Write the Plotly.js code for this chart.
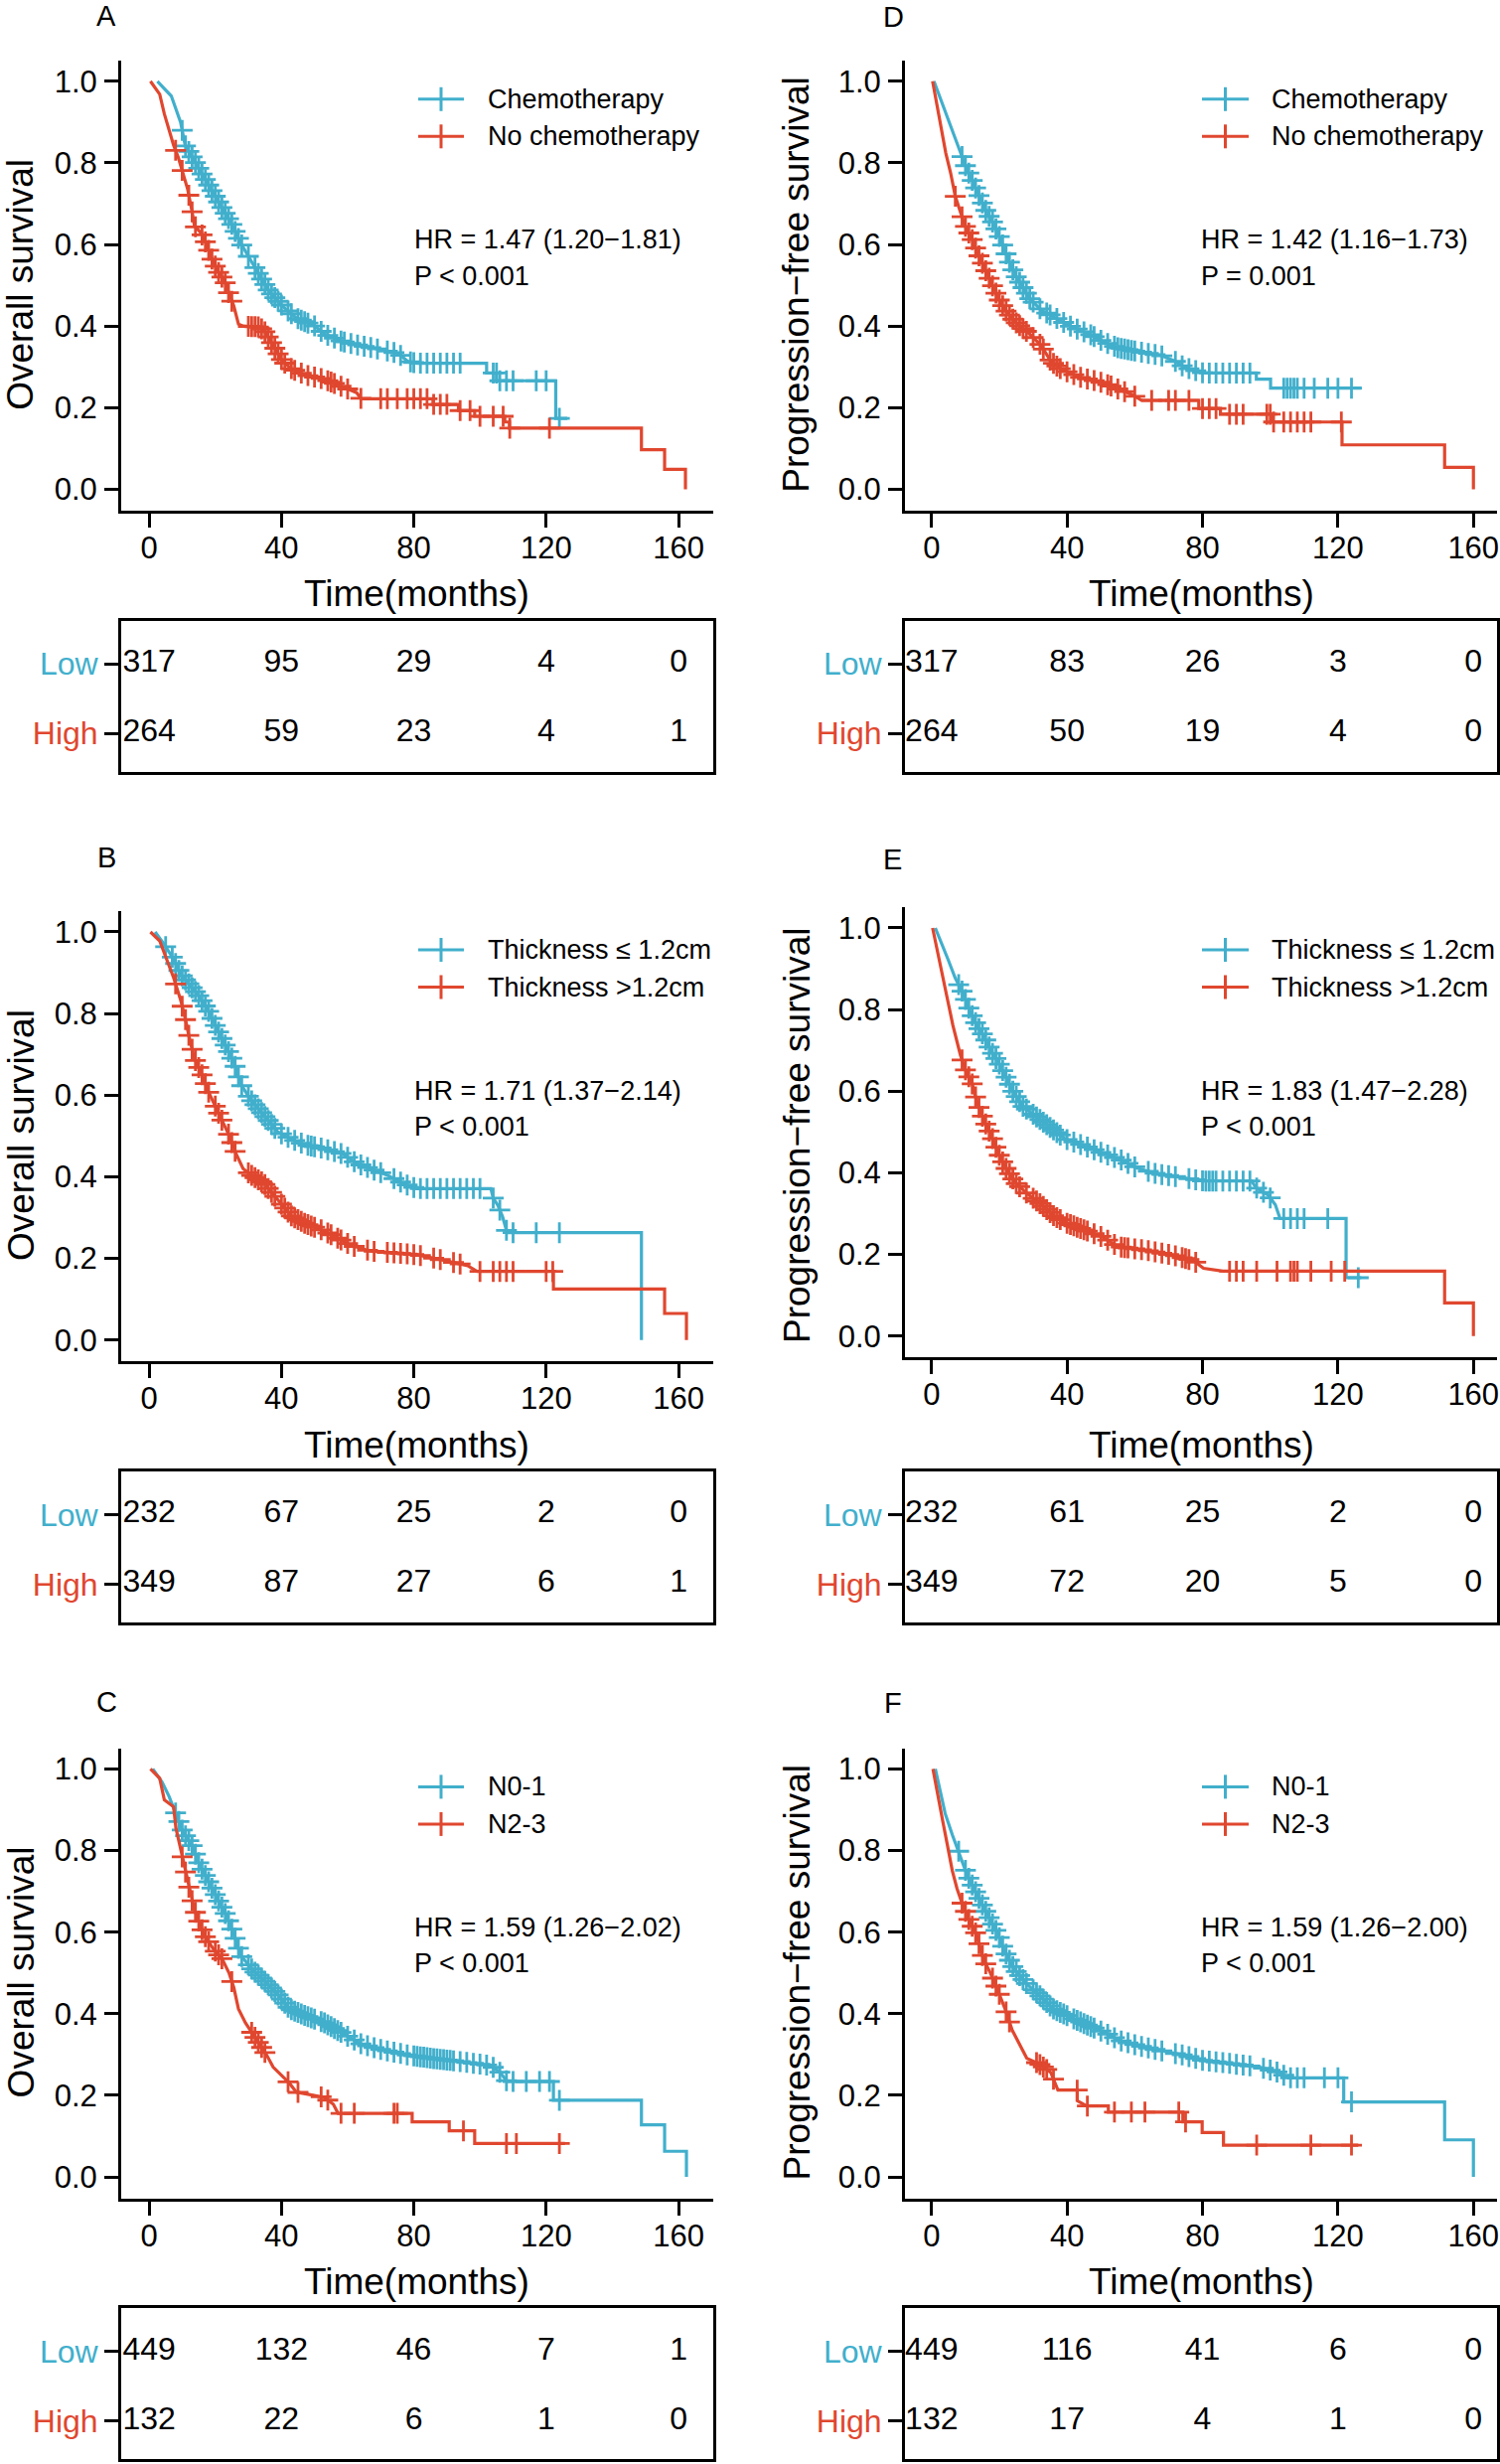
<!DOCTYPE html>
<html><head><meta charset="utf-8">
<script src="https://cdn.plot.ly/plotly-3.0.1.min.js"></script>
<style>body{margin:0;background:#fff}</style>
</head><body><div id="chart" style="width:1510px;height:2480px"></div>
<script>
// ---------------- DATA ----------------
const timeTicks = [0, 40, 80, 120, 160];
const survTicks = [0, 0.2, 0.4, 0.6, 0.8, 1.0];
const survTickText = ['0.0', '0.2', '0.4', '0.6', '0.8', '1.0'];
const riskTimes = [0, 40, 80, 120, 160];
const rowNames = ['Low', 'High'];

// Panel A (OS, chemotherapy)
const A_legend = ['Chemotherapy', 'No chemotherapy'];
const A_low_t = [2.5,6.7,9.5,10.9,13.7,16.5,19.3,22.1,24.9,27.7,30.5,33.3,36.1,40.3,44.5,50.1,52.9,58.5,64.1,69.7,75.3,78.1,80.9,102,102,105,105,122.9,122.9,126.4];
const A_low_s = [1.0,.964,.90,.843,.805,.766,.728,.689,.651,.603,.564,.525,.487,.449,.42,.40,.381,.362,.352,.343,.333,.314,.309,.309,.285,.285,.266,.266,.174,.174];
const A_low_c = [10,11,12,13,14,15,16,17,18,19,20,21,22,23,24,25,26,27,28,30,32,33,34,35,36,37,38,39,40,42,43,45,46,47,48,50,52,54,56,58,59,61,63,65,67,69,72,74,76,79,80,82,84,86,88,90,92,94,104,105,106,108,110,117,120,124];
const A_high_t = [0.4,3.2,4.6,6.0,7.4,8.8,10.2,11.6,13.0,13.7,15.8,17.2,19.0,20.7,22.8,24.2,25.6,27.0,28.4,33,34.7,36.1,38.2,40.3,43.1,47.3,52.9,58.5,62.7,64.1,85.8,85.8,93.5,93.5,98.4,98.4,107.5,107.5,108.9,108.9,148.8,148.8,155.8,155.8,162.1,162.1];
const A_high_s = [1.0,.968,.920,.882,.843,.814,.776,.737,.680,.646,.627,.603,.564,.535,.511,.477,.449,.405,.400,.398,.39,.372,.343,.314,.295,.28,.27,.251,.237,.222,.222,.208,.208,.193,.193,.179,.179,.165,.165,.150,.150,.097,.097,.049,.049,0];
const A_high_c = [8,10,12,13,14,16,17,18,19,20,21,22,23,24,25,30,31,32,33,34,35,36,37,38,39,40,41,43,44,46,48,50,52,54,55,56,58,60,64,70,72,75,78,80,82,84,86,88,90,94,97,100,104,107,109,121];
const A_riskLow = [317, 95, 29, 4, 0];
const A_riskHigh = [264, 59, 23, 4, 1];
const A_hr = 'HR = 1.47 (1.20\u22121.81)';
const A_p = 'P &lt; 0.001';

// Panel D (PFS, chemotherapy)
const D_legend = ['Chemotherapy', 'No chemotherapy'];
const D_low_t = [0.7,3.5,5.6,7.8,9.9,12.0,14.1,16.2,18.3,20.4,22.6,24.7,26.8,28.9,32.4,36.7,40.9,46.5,50.7,55.0,60.6,67.7,71.9,74.7,80.3,95.9,95.9,100.1,100.1,126.9];
const D_low_s = [1.0,.939,.891,.843,.795,.757,.718,.680,.651,.612,.564,.525,.497,.468,.439,.42,.40,.381,.362,.347,.338,.328,.314,.299,.285,.285,.270,.270,.248,.248];
const D_low_c = [9,10,11,12,13,14,15,16,17,18,19,20,21,22,23,24,25,26,27,28,29,30,32,34,35,37,39,41,43,45,47,48,50,52,54,55,56,57,58,59,60,62,64,66,68,72,74,76,78,80,82,84,86,88,90,92,94,104,105,106,107,108,110,113,117,120,124];
const D_high_t = [0.3,1.4,2.8,4.2,5.6,7.0,8.5,9.9,12.0,13.4,15.5,17.6,19.7,21.8,24.7,28.9,32.4,35.2,38.1,43.7,50.7,55.0,59.2,62.0,78.9,78.9,85.3,85.3,100.8,100.8,121.2,121.2,151.5,151.5,160,160];
const D_high_s = [1.0,.949,.891,.824,.776,.718,.680,.646,.612,.583,.545,.506,.468,.439,.410,.381,.352,.314,.295,.275,.261,.246,.232,.218,.218,.198,.198,.184,.184,.165,.165,.109,.109,.054,.054,0];
const D_high_c = [7,9,10,11,12,13,14,15,16,17,18,19,20,21,22,23,24,25,26,27,28,30,32,33,35,36,37,38,40,42,44,46,48,50,52,53,55,57,60,65,70,72,76,80,82,84,88,90,92,99,100,101,104,106,108,110,112,121];
const D_riskLow = [317, 83, 26, 3, 0];
const D_riskHigh = [264, 50, 19, 4, 0];
const D_hr = 'HR = 1.42 (1.16\u22121.73)';
const D_p = 'P = 0.001';

// Panel B (OS, thickness)
const B_legend = ['Thickness \u2264 1.2cm', 'Thickness &gt;1.2cm'];
const B_low_t = [1.8,4.6,7.4,9.5,12.3,15.1,17.9,20.0,22.8,25.6,27.7,30.5,33.3,36.1,38.9,43.1,47.3,52.9,58.5,62.7,66.9,72.5,76.7,80.9,103.3,104,105.4,106.8,108.2,148.8,148.8];
const B_low_s = [1.0,.969,.933,.897,.870,.843,.807,.771,.726,.681,.627,.591,.564,.537,.510,.492,.478,.469,.456,.433,.420,.402,.384,.371,.371,.348,.330,.303,.263,.263,0];
const B_low_c = [5,7,8,9,10,11,12,13,14,15,16,17,18,19,20,21,22,23,24,25,26,27,28,30,31,32,33,34,35,36,37,38,40,42,44,46,48,49,50,52,54,56,58,60,62,64,66,68,70,74,76,78,80,82,84,86,88,90,92,94,96,98,100,104,106,108,110,117,124];
const B_high_t = [0.4,3.2,5.3,7.4,9.5,10.9,12.3,13.7,15.8,17.9,20.0,22.1,24.2,26.3,28.4,31.2,34.7,37.5,40.3,43.1,47.3,52.9,57.1,61.3,66.9,80.9,89.3,96.3,99.1,122.2,122.2,155.8,155.8,162.4,162.4];
const B_high_s = [1.0,.978,.933,.888,.834,.789,.735,.690,.654,.609,.573,.537,.501,.456,.420,.402,.384,.357,.330,.303,.285,.267,.249,.231,.218,.209,.195,.182,.168,.168,.125,.125,.065,.065,0];
const B_high_c = [8,10,11,12,13,14,15,16,17,18,20,21,22,24,25,26,30,31,32,33,34,35,36,37,38,40,41,42,43,44,45,46,47,48,49,50,52,54,55,57,58,60,62,66,68,72,74,76,78,80,82,86,88,92,94,100,104,106,108,110,120,122];
const B_riskLow = [232, 67, 25, 2, 0];
const B_riskHigh = [349, 87, 27, 6, 1];
const B_hr = 'HR = 1.71 (1.37\u22122.14)';
const B_p = 'P &lt; 0.001';

// Panel E (PFS, thickness)
const E_legend = ['Thickness \u2264 1.2cm', 'Thickness &gt;1.2cm'];
const E_low_t = [1.1,2.8,4.9,7.0,9.2,11.3,13.4,15.5,17.6,19.7,21.9,24.0,26.8,31.0,35.2,39.5,45.1,50.7,56.4,60.6,66.3,73.3,80.3,94.4,95.9,99.4,101.5,102.9,122.4,122.4,126.9];
const E_low_s = [1.0,.967,.922,.877,.842,.797,.761,.734,.698,.671,.636,.600,.564,.537,.510,.483,.466,.448,.430,.412,.398,.389,.380,.380,.363,.345,.322,.288,.288,.143,.143];
const E_low_c = [8,9,10,11,12,13,14,15,16,17,18,19,20,21,22,23,24,25,26,27,28,30,31,32,33,34,35,36,37,38,40,42,44,46,48,50,52,54,56,58,60,64,66,68,70,72,76,78,80,81,82,83,84,86,88,90,92,94,96,98,100,104,106,108,110,117,126];
const E_high_t = [0.3,2.1,4.2,6.3,8.5,9.9,12.0,13.4,15.5,17.6,19.7,21.9,24.7,28.2,32.4,36.0,39.5,45.1,50.7,55.0,63.4,71.9,77.5,80.3,86.0,151.5,151.5,160,160];
const E_high_s = [1.0,.931,.842,.761,.689,.654,.618,.573,.528,.492,.448,.412,.376,.349,.322,.295,.278,.260,.242,.219,.210,.197,.184,.166,.159,.159,.081,.081,0];
const E_high_c = [9,10,11,12,13,14,15,16,17,18,19,20,21,22,23,24,25,26,28,30,31,32,33,34,35,36,37,38,40,41,42,43,44,45,46,48,50,52,54,56,57,58,60,62,64,66,68,70,72,74,75,76,78,88,90,92,96,102,106,107,108,112,118,122];
const E_riskLow = [232, 61, 25, 2, 0];
const E_riskHigh = [349, 72, 20, 5, 0];
const E_hr = 'HR = 1.83 (1.47\u22122.28)';
const E_p = 'P &lt; 0.001';

// Panel C (OS, N stage)
const C_legend = ['N0-1', 'N2-3'];
const C_low_t = [1.1,3.9,6.0,8.1,10.2,13.0,15.1,17.9,20.7,23.5,25.6,27.7,31.2,34.7,38.9,42.4,47.3,52.9,58.5,64.1,69.7,78.1,85.1,94.9,103.3,106.1,108.2,122.2,122.2,148.8,148.8,155.8,155.8,162.4,162.4];
const C_low_s = [1.0,.968,.933,.890,.846,.812,.768,.725,.681,.638,.595,.543,.508,.482,.447,.412,.395,.378,.352,.326,.313,.299,.291,.282,.273,.256,.234,.234,.188,.188,.128,.128,.063,.063,0];
const C_low_c = [8,9,10,11,12,13,14,15,16,17,18,19,20,21,22,23,24,25,26,27,28,30,31,32,33,34,35,36,37,38,39,40,41,42,43,44,45,46,47,48,49,50,52,53,54,55,56,57,58,60,62,64,66,68,70,72,74,76,78,80,81,82,83,84,85,86,87,88,89,90,91,92,94,96,98,100,102,104,106,108,110,114,118,121,124];
const C_high_t = [0.4,3.2,4.6,7.4,8.1,9.5,10.9,12.3,13.7,16.5,19.3,22.1,24.2,25.6,27.0,29.1,31.2,33.3,35.5,37.5,40.3,42.4,44.5,52.9,55.7,57.1,79.5,79.5,90.7,90.7,98.4,98.4,125.7];
const C_high_s = [1.0,.977,.924,.907,.855,.803,.751,.699,.655,.595,.560,.534,.499,.464,.412,.378,.352,.326,.299,.269,.247,.230,.208,.195,.178,.156,.156,.135,.135,.113,.113,.082,.082];
const C_high_c = [10,11,12,13,14,15,16,17,18,20,21,22,25,31,32,33,34,35,42,45,52,54,58,62,74,75,95,108,111,124];
const C_riskLow = [449, 132, 46, 7, 1];
const C_riskHigh = [132, 22, 6, 1, 0];
const C_hr = 'HR = 1.59 (1.26\u22122.02)';
const C_p = 'P &lt; 0.001';

// Panel F (PFS, N stage)
const F_legend = ['N0-1', 'N2-3'];
const F_low_t = [1.1,2.6,4.0,6.1,8.2,10.4,12.5,14.6,17.4,19.6,21.7,24.5,28.1,31.6,35.9,40.1,45.8,51.5,55.7,61.4,68.5,74.2,79.9,88.4,96.9,102.6,105.4,121.7,121.7,151.5,151.5,160,160];
const F_low_s = [1.0,.942,.891,.839,.794,.742,.707,.673,.629,.595,.551,.508,.473,.447,.412,.395,.373,.352,.334,.321,.308,.299,.286,.278,.269,.256,.243,.243,.184,.184,.091,.091,0];
const F_low_c = [8,10,11,12,13,14,15,16,17,18,19,20,21,22,23,24,25,26,27,28,30,31,32,33,34,35,36,37,38,39,40,42,43,44,45,46,47,48,50,52,54,56,58,60,62,64,66,68,72,74,76,78,80,82,84,86,88,90,92,94,98,100,102,104,106,108,110,116,120,124];
const F_high_t = [0.4,1.8,3.3,4.7,6.1,7.5,8.9,11.1,13.2,15.3,17.4,19.6,21.7,23.8,26.0,28.1,31.6,35.2,37.3,43.0,43.0,45.8,52.2,52.2,74.2,74.2,79.9,79.9,86.2,86.2,126.0];
const F_high_s = [1.0,.933,.872,.812,.751,.707,.673,.629,.595,.534,.499,.456,.412,.360,.326,.291,.278,.256,.213,.213,.187,.174,.174,.159,.159,.135,.135,.109,.109,.078,.078];
const F_high_c = [9,10,11,12,13,14,15,16,18,19,20,22,23,31,32,33,34,36,43,46,54,59,63,73,75,96,112,124];
const F_riskLow = [449, 116, 41, 6, 0];
const F_riskHigh = [132, 17, 4, 1, 0];
const F_hr = 'HR = 1.59 (1.26\u22122.00)';
const F_p = 'P &lt; 0.001';

// ---------------- STYLE / LAYOUT ----------------
const W = 1510, H = 2480;
const px = x => x / W, py = y => 1 - y / H;
const CYAN = '#41AFCC', RED = '#E0472F';
const FONT = 'Liberation Sans, Arial, Helvetica, sans-serif';

const cols = {
  left:  {L: 122, R: 718, r0: -8.44, r1: 170.5, lineX0: 421, lineX1: 467, textX: 489, hrX: 415, ytX: 21},
  right: {L: 911, R: 1507, r0: -7.86, r1: 166.97, lineX0: 1210, lineX1: 1257, textX: 1278, hrX: 1207, ytX: 802}
};

const panels = [
  {id:'A', col:'left',  base:81.8,   plotBase:81.8,   ytitle:'Overall survival', letterXY:[107,16],
   low:[A_low_t,A_low_s,A_low_c], high:[A_high_t,A_high_s,A_high_c], risk:[A_riskLow,A_riskHigh], legend:A_legend, hr:A_hr, p:A_p},
  {id:'B', col:'left',  base:938,    plotBase:938,    ytitle:'Overall survival', letterXY:[107,863],
   low:[B_low_t,B_low_s,B_low_c], high:[B_high_t,B_high_s,B_high_c], risk:[B_riskLow,B_riskHigh], legend:B_legend, hr:B_hr, p:B_p},
  {id:'C', col:'left',  base:1780.4, plotBase:1780.4, ytitle:'Overall survival', letterXY:[107,1713],
   low:[C_low_t,C_low_s,C_low_c], high:[C_high_t,C_high_s,C_high_c], risk:[C_riskLow,C_riskHigh], legend:C_legend, hr:C_hr, p:C_p},
  {id:'D', col:'right', base:81.8,   plotBase:81.8,   ytitle:'Progression\u2212free survival', letterXY:[899,17],
   low:[D_low_t,D_low_s,D_low_c], high:[D_high_t,D_high_s,D_high_c], risk:[D_riskLow,D_riskHigh], legend:D_legend, hr:D_hr, p:D_p},
  {id:'E', col:'right', base:938,    plotBase:934,    ytitle:'Progression\u2212free survival', letterXY:[898,865],
   low:[E_low_t,E_low_s,E_low_c], high:[E_high_t,E_high_s,E_high_c], risk:[E_riskLow,E_riskHigh], legend:E_legend, hr:E_hr, p:E_p},
  {id:'F', col:'right', base:1780.4, plotBase:1780.4, ytitle:'Progression\u2212free survival', letterXY:[899,1714],
   low:[F_low_t,F_low_s,F_low_c], high:[F_high_t,F_high_s,F_high_c], risk:[F_riskLow,F_riskHigh], legend:F_legend, hr:F_hr, p:F_p}
];

// place a censor mark on the drawn curve
function onCurve(t, s, tc) {
  for (let i = 0; i < t.length - 1; i++) {
    if (t[i + 1] > t[i] && tc >= t[i] && tc <= t[i + 1]) {
      return s[i] + (s[i + 1] - s[i]) * (tc - t[i]) / (t[i + 1] - t[i]);
    }
  }
  return s[s.length - 1];
}

const traces = [];
const layout = {
  width: W, height: H, margin: {l: 0, r: 0, t: 0, b: 0},
  paper_bgcolor: '#fff', plot_bgcolor: 'rgba(0,0,0,0)',
  showlegend: false, font: {family: FONT, color: '#000'},
  annotations: [], shapes: []
};

panels.forEach((p, i) => {
  const c = cols[p.col];
  const na = 2 * i + 1, nt = 2 * i + 2;
  const xa = na === 1 ? 'x' : 'x' + na, ya = na === 1 ? 'y' : 'y' + na;
  const xt = 'x' + nt, yt = 'y' + nt;
  const xaKey = na === 1 ? 'xaxis' : 'xaxis' + na, yaKey = na === 1 ? 'yaxis' : 'yaxis' + na;

  // survival curves + censor marks
  [[p.low, CYAN], [p.high, RED]].forEach(([g, col]) => {
    const [t, s, cens] = g;
    traces.push({type: 'scatter', mode: 'lines', x: t, y: s, xaxis: xa, yaxis: ya,
      line: {color: col, width: 3.2}, hoverinfo: 'skip', cliponaxis: false});
    traces.push({type: 'scatter', mode: 'markers', x: cens, y: cens.map(tc => onCurve(t, s, tc)),
      xaxis: xa, yaxis: ya, hoverinfo: 'skip', cliponaxis: false,
      marker: {symbol: 'cross-thin-open', size: 15, color: col, line: {color: col, width: 2.8}}});
  });

  // risk table numbers
  [[p.risk[0], 2], [p.risk[1], 1]].forEach(([vals, row]) => {
    traces.push({type: 'scatter', mode: 'text', x: riskTimes, y: riskTimes.map(() => row),
      text: vals.map(String), textposition: 'middle center', xaxis: xt, yaxis: yt,
      textfont: {size: 32, color: '#000', family: FONT}, hoverinfo: 'skip', cliponaxis: false});
  });

  const pb = p.plotBase, b = p.base;
  layout[xaKey] = {domain: [px(c.L), px(c.R)], range: [c.r0, c.r1], anchor: ya,
    showline: true, linecolor: '#000', linewidth: 3, ticks: 'outside', ticklen: 14, tickwidth: 3, tickcolor: '#000',
    ticklabelstandoff: -6, ticklabeloverflow: 'allow',
    tickvals: timeTicks, ticktext: timeTicks.map(String), tickfont: {size: 31, family: FONT, color: '#000'},
    showgrid: false, zeroline: false, fixedrange: true};
  layout[yaKey] = {domain: [py(pb + 432.2), py(pb - 20.8)], range: [-0.0523, 1.0506], anchor: xa,
    showline: true, linecolor: '#000', linewidth: 3, ticks: 'outside', ticklen: 14, tickwidth: 3, tickcolor: '#000',
    ticklabelstandoff: 1, ticklabeloverflow: 'allow',
    tickvals: survTicks, ticktext: survTickText, tickfont: {size: 31, family: FONT, color: '#000'},
    showgrid: false, zeroline: false, fixedrange: true};
  layout['xaxis' + nt] = {domain: [px(c.L), px(c.R)], range: [c.r0, c.r1], anchor: yt,
    showline: true, mirror: true, linecolor: '#000', linewidth: 3, showticklabels: false, ticks: '',
    showgrid: false, zeroline: false, fixedrange: true};
  layout['yaxis' + nt] = {domain: [py(b + 695), py(b + 543)], range: [0.45, 2.62], anchor: xt,
    showline: true, mirror: true, linecolor: '#000', linewidth: 3, ticks: 'outside', ticklen: 14, tickwidth: 3,
    tickcolor: '#000', tickvals: [2, 1], ticklabeloverflow: 'allow',
    ticktext: ['<span style="color:' + CYAN + '">' + rowNames[0] + '</span>', '<span style="color:' + RED + '">' + rowNames[1] + '</span>'],
    tickfont: {size: 32, family: FONT}, showgrid: false, zeroline: false, fixedrange: true};

  const A = layout.annotations;
  const ann = (x, y, text, size, xanchor, extra) => A.push(Object.assign({
    xref: 'paper', yref: 'paper', x: px(x), y: py(y), text: text, showarrow: false,
    xanchor: xanchor, yanchor: 'middle', font: {size: size, family: FONT, color: '#000'}}, extra || {}));

  ann(p.letterXY[0], p.letterXY[1], p.id, 29, 'center');
  ann((c.L + c.R) / 2, b + 516, 'Time(months)', 37, 'center');
  ann(c.ytX, b + 205, p.ytitle, 37, 'center', {textangle: -90});
  ann(c.hrX, b + 159.5, p.hr, 27, 'left');
  ann(c.hrX, b + 196, p.p, 27, 'left');
  ann(c.textX, b + 18, p.legend[0], 27, 'left');
  ann(c.textX, b + 55.5, p.legend[1], 27, 'left');

  // legend keys
  [[b + 18, CYAN], [b + 55.5, RED]].forEach(([yy, col]) => {
    layout.shapes.push({type: 'line', xref: 'paper', yref: 'paper', x0: px(c.lineX0), x1: px(c.lineX1), y0: py(yy), y1: py(yy),
      line: {color: col, width: 3}});
    const cx = (c.lineX0 + c.lineX1) / 2;
    layout.shapes.push({type: 'line', xref: 'paper', yref: 'paper', x0: px(cx), x1: px(cx), y0: py(yy - 12), y1: py(yy + 12),
      line: {color: col, width: 3}});
  });
});

Plotly.newPlot('chart', traces, layout, {staticPlot: true, displayModeBar: false});
</script></body></html>
